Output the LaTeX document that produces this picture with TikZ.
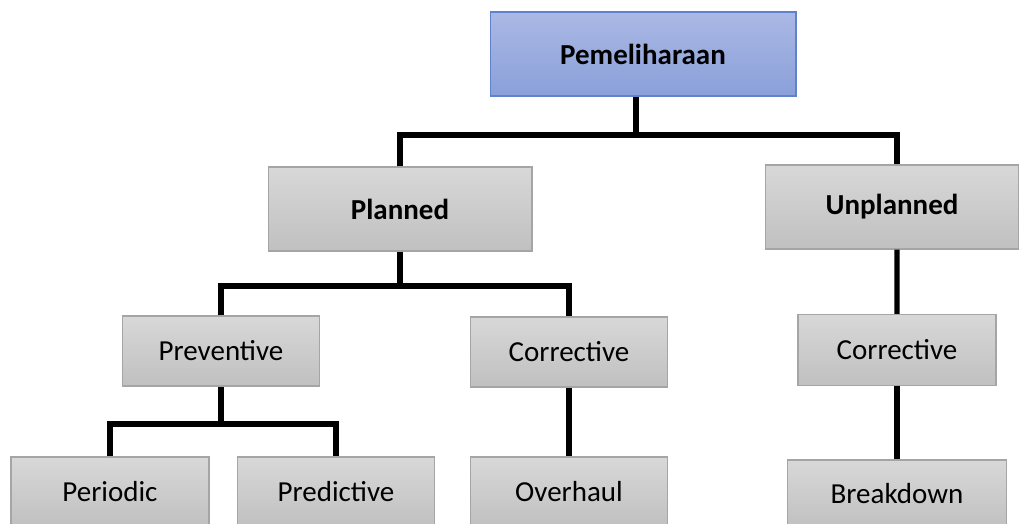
\documentclass[tikz,border=0pt]{standalone}
\usepackage{fontspec}
\setmainfont{Carlito}
\usetikzlibrary{positioning}

\definecolor{topA}{RGB}{170,184,228}
\definecolor{topB}{RGB}{138,160,218}
\definecolor{topedge}{RGB}{96,128,208}
\definecolor{grayA}{RGB}{216,216,216}
\definecolor{grayB}{RGB}{192,192,192}
\definecolor{grayedge}{RGB}{165,165,165}

\tikzset{
    rootbox/.style={draw=topedge,line width=0.6pt,top color=topA,bottom color=topB,
        inner sep=0pt,minimum width=6.12cm,minimum height=1.68cm,
        font=\fontsize{16.5}{20}\selectfont\bfseries},
    graybox/.style={draw=grayedge,line width=0.6pt,top color=grayA,bottom color=grayB,
        inner sep=0pt,minimum height=1.4cm,font=\fontsize{16.5}{20}\selectfont},
    conn/.style={line width=3.1pt,black}
}

\begin{document}
\begin{tikzpicture}[x=0.02cm,y=-0.02cm]

\useasboundingbox (0,0) rectangle (1019,524);
\clip (0,0) rectangle (1019,524);

\node[rootbox] (root) at (643,54) {Pemeliharaan};

\node[graybox,minimum width=5.28cm,minimum height=1.68cm,font=\fontsize{16.5}{20}\selectfont\bfseries] (planned) at (400,209) {Planned};
\node[graybox,minimum width=5.06cm,minimum height=1.68cm,font=\fontsize{16.5}{20}\selectfont\bfseries] (unplanned) at (892,207) {Unplanned};

\node[graybox,minimum width=3.94cm] (prev) at (221,351) {Preventive};
\node[graybox,minimum width=3.94cm] (corrA) at (569,352) {Corrective};
\node[graybox,minimum width=3.96cm,minimum height=1.42cm] (corrB) at (897,350) {Corrective};

\node[graybox,minimum width=3.96cm] (periodic) at (110,492) {Periodic};
\node[graybox,minimum width=3.94cm] (predictive) at (336,492) {Predictive};
\node[graybox,minimum width=3.94cm] (overhaul) at (569,492) {Overhaul};
\node[graybox,minimum width=4.38cm,minimum height=1.36cm] (breakdown) at (897,494) {Breakdown};

% Connectors
\coordinate (b1) at (636,135);
\coordinate (b2) at (400,286);
\coordinate (b3) at (221,424);

\draw[conn] (root.south -| b1) -- (b1);
\draw[conn] (planned.north) |- (b1) -| ([xshift=0.1cm]unplanned.north);

\draw[conn] (planned.south) -- (b2);
\draw[conn] (prev.north) |- (b2) -| (corrA.north);

\draw[conn] (prev.south) -- (b3);
\draw[conn] (periodic.north) |- (b3) -| (predictive.north);

\draw[conn] (corrA.south) -- (overhaul.north);

\draw[conn] ([xshift=0.1cm]unplanned.south) -- (corrB.north);
\draw[conn] (corrB.south) -- (breakdown.north);

\end{tikzpicture}
\end{document}
